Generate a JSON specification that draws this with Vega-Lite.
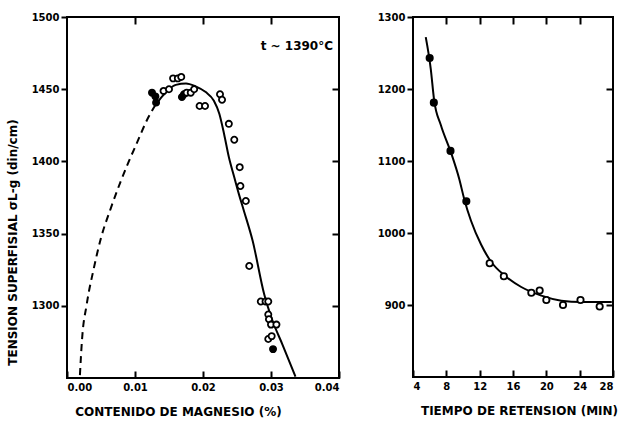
{
  "$schema": "https://vega.github.io/schema/vega-lite/v6.json",
  "padding": {"left": 5, "top": 11, "right": 5, "bottom": 5},
  "background": "white",
  "spacing": 35,
  "config": {
    "view": {"stroke": "black", "strokeWidth": 2},
    "font": "DejaVu Sans",
    "axis": {
      "grid": false, "domain": false, "tickColor": "black", "tickWidth": 2,
      "labelColor": "black", "labelFont": "DejaVu Sans", "labelFontWeight": "bold", "labelFontSize": 10,
      "titleColor": "black", "titleFont": "DejaVu Sans", "titleFontWeight": "bold", "titleFontSize": 12
    }
  },
  "datasets": {
    "mgDash": [
      {"mg": 0.0019, "st": 1252}, {"mg": 0.0022, "st": 1276}, {"mg": 0.0029, "st": 1301},
      {"mg": 0.0039, "st": 1325}, {"mg": 0.0050, "st": 1347}, {"mg": 0.0064, "st": 1367},
      {"mg": 0.0078, "st": 1385}, {"mg": 0.0090, "st": 1399}, {"mg": 0.0103, "st": 1413},
      {"mg": 0.0118, "st": 1429}, {"mg": 0.0130, "st": 1439}
    ],
    "mgSolid": [
      {"mg": 0.0130, "st": 1439}, {"mg": 0.0140, "st": 1445}, {"mg": 0.0150, "st": 1450},
      {"mg": 0.0160, "st": 1453}, {"mg": 0.0175, "st": 1454}, {"mg": 0.0189, "st": 1452},
      {"mg": 0.0204, "st": 1448}, {"mg": 0.0216, "st": 1442}, {"mg": 0.0224, "st": 1433},
      {"mg": 0.0231, "st": 1419}, {"mg": 0.0238, "st": 1403}, {"mg": 0.0246, "st": 1389},
      {"mg": 0.0253, "st": 1377}, {"mg": 0.0260, "st": 1366}, {"mg": 0.0273, "st": 1345},
      {"mg": 0.0290, "st": 1308}, {"mg": 0.0302, "st": 1290}, {"mg": 0.0317, "st": 1273},
      {"mg": 0.0336, "st": 1251}
    ],
    "mgPts": [
      {"mg": 0.0125, "st": 1447.6, "kind": "filled"}, {"mg": 0.0130, "st": 1445, "kind": "filled"},
      {"mg": 0.0131, "st": 1440.7, "kind": "filled"}, {"mg": 0.0142, "st": 1448.8, "kind": "open"},
      {"mg": 0.0150, "st": 1450, "kind": "open"}, {"mg": 0.0156, "st": 1457.5, "kind": "open"},
      {"mg": 0.0163, "st": 1457.5, "kind": "open"}, {"mg": 0.0168, "st": 1458.5, "kind": "open"},
      {"mg": 0.0169, "st": 1444.6, "kind": "filled"}, {"mg": 0.0172, "st": 1446.5, "kind": "filled"},
      {"mg": 0.0176, "st": 1447.6, "kind": "open"}, {"mg": 0.0182, "st": 1447.6, "kind": "open"},
      {"mg": 0.0187, "st": 1450, "kind": "open"}, {"mg": 0.0195, "st": 1438.4, "kind": "open"},
      {"mg": 0.0203, "st": 1438.4, "kind": "open"}, {"mg": 0.0225, "st": 1446.5, "kind": "open"},
      {"mg": 0.0228, "st": 1442.7, "kind": "open"}, {"mg": 0.0238, "st": 1426, "kind": "open"},
      {"mg": 0.0246, "st": 1415, "kind": "open"}, {"mg": 0.0254, "st": 1396, "kind": "open"},
      {"mg": 0.0255, "st": 1383, "kind": "open"}, {"mg": 0.0263, "st": 1372.6, "kind": "open"},
      {"mg": 0.0268, "st": 1327.6, "kind": "open"}, {"mg": 0.0285, "st": 1303, "kind": "open"},
      {"mg": 0.0292, "st": 1303, "kind": "open"}, {"mg": 0.0296, "st": 1303, "kind": "open"},
      {"mg": 0.0296, "st": 1294, "kind": "open"}, {"mg": 0.0297, "st": 1290.7, "kind": "open"},
      {"mg": 0.0300, "st": 1287, "kind": "open"}, {"mg": 0.0308, "st": 1287, "kind": "open"},
      {"mg": 0.0296, "st": 1277, "kind": "open"}, {"mg": 0.0301, "st": 1279, "kind": "open"},
      {"mg": 0.0303, "st": 1270, "kind": "filled"}
    ],
    "mgNote": [{"mg": 0.0338, "st": 1480, "label": "t ~ 1390°C"}],
    "tCurve": [
      {"t": 5.53, "st": 1272}, {"t": 6.13, "st": 1228}, {"t": 6.53, "st": 1185},
      {"t": 7.34, "st": 1150}, {"t": 8.55, "st": 1112}, {"t": 9.55, "st": 1075},
      {"t": 10.15, "st": 1047}, {"t": 10.96, "st": 1017}, {"t": 12.17, "st": 984},
      {"t": 13.37, "st": 960}, {"t": 14.98, "st": 941}, {"t": 16.99, "st": 925},
      {"t": 19.4, "st": 913}, {"t": 21.8, "st": 906}, {"t": 24.2, "st": 904},
      {"t": 27.85, "st": 904}
    ],
    "tPts": [
      {"t": 6.0, "st": 1243, "kind": "filled"}, {"t": 6.5, "st": 1181, "kind": "filled"},
      {"t": 8.5, "st": 1114, "kind": "filled"}, {"t": 10.4, "st": 1044, "kind": "filled"},
      {"t": 13.2, "st": 958, "kind": "open"}, {"t": 14.9, "st": 940, "kind": "open"},
      {"t": 18.2, "st": 917, "kind": "open"}, {"t": 19.2, "st": 920, "kind": "open"},
      {"t": 20.0, "st": 907, "kind": "open"}, {"t": 22.0, "st": 900, "kind": "open"},
      {"t": 24.1, "st": 907, "kind": "open"}, {"t": 26.4, "st": 898, "kind": "open"}
    ]
  },
  "hconcat": [
    {
      "width": 272,
      "height": 361,
      "resolve": {"axis": {"x": "independent", "y": "independent"}},
      "layer": [
        {
          "data": {"name": "mgDash"},
          "mark": {"type": "line", "color": "black", "strokeWidth": 2, "strokeDash": [7, 5], "interpolate": "monotone"},
          "encoding": {
            "x": {"field": "mg", "type": "quantitative", "scale": {"domain": [0, 0.04], "nice": false},
              "axis": {"orient": "bottom", "values": [0, 0.01, 0.02, 0.03, 0.04], "format": ".2f", "tickSize": -7, "labelPadding": 11,
                "title": "CONTENIDO DE MAGNESIO (%)", "titlePadding": 14, "titleX": 111}},
            "y": {"field": "st", "type": "quantitative", "scale": {"domain": [1250, 1500], "nice": false, "zero": false},
              "axis": {"orient": "left", "values": [1300, 1350, 1400, 1450, 1500], "format": "d", "tickSize": 6, "labelPadding": 2,
                "title": "TENSION SUPERFISIAL σL-g (din/cm)", "titlePadding": 12, "titleY": 225}}
          }
        },
        {
          "data": {"name": "mgSolid"},
          "mark": {"type": "line", "color": "black", "strokeWidth": 2, "interpolate": "monotone"},
          "encoding": {
            "x": {"field": "mg", "type": "quantitative", "axis": null},
            "y": {"field": "st", "type": "quantitative", "axis": null}
          }
        },
        {
          "data": {"name": "mgPts"},
          "mark": {"type": "point", "shape": "circle", "size": 38, "strokeWidth": 1.8, "opacity": 1},
          "encoding": {
            "x": {"field": "mg", "type": "quantitative", "axis": null},
            "y": {"field": "st", "type": "quantitative", "axis": null},
            "stroke": {"value": "black"},
            "fill": {"field": "kind", "type": "nominal", "scale": {"domain": ["filled", "open"], "range": ["black", "white"]}, "legend": null}
          }
        },
        {
          "data": {"name": "mgNote"},
          "mark": {"type": "text", "font": "DejaVu Sans", "fontWeight": "bold", "fontSize": 12, "color": "black"},
          "encoding": {
            "x": {"field": "mg", "type": "quantitative", "axis": null},
            "y": {"field": "st", "type": "quantitative", "axis": null},
            "text": {"field": "label"}
          }
        },
        {
          "data": {"name": "mgNote"},
          "mark": {"type": "point", "opacity": 0},
          "encoding": {
            "x": {"field": "mg", "type": "quantitative",
              "axis": {"orient": "top", "values": [0.01, 0.02, 0.03], "labels": false, "tickSize": -7, "title": null}},
            "y": {"field": "st", "type": "quantitative",
              "axis": {"orient": "right", "values": [1300, 1350, 1400, 1450], "labels": false, "tickSize": -7, "title": null}}
          }
        }
      ]
    },
    {
      "width": 200,
      "height": 360,
      "resolve": {"axis": {"x": "independent", "y": "independent"}},
      "layer": [
        {
          "data": {"name": "tCurve"},
          "mark": {"type": "line", "color": "black", "strokeWidth": 2, "interpolate": "monotone"},
          "encoding": {
            "x": {"field": "t", "type": "quantitative", "scale": {"domain": [4, 28], "nice": false, "zero": false},
              "axis": {"orient": "bottom", "values": [4, 8, 12, 16, 20, 24, 28], "tickSize": -7, "labelPadding": 11,
                "title": "TIEMPO DE RETENSION (MIN)", "titlePadding": 14, "titleX": 106}},
            "y": {"field": "st", "type": "quantitative", "scale": {"domain": [800, 1300], "nice": false, "zero": false},
              "axis": {"orient": "left", "values": [900, 1000, 1100, 1200, 1300], "format": "d", "tickSize": 6, "labelPadding": 2, "title": null}}
          }
        },
        {
          "data": {"name": "tPts"},
          "mark": {"type": "point", "shape": "circle", "size": 40, "strokeWidth": 1.8, "opacity": 1},
          "encoding": {
            "x": {"field": "t", "type": "quantitative", "axis": null},
            "y": {"field": "st", "type": "quantitative", "axis": null},
            "stroke": {"value": "black"},
            "fill": {"field": "kind", "type": "nominal", "scale": {"domain": ["filled", "open"], "range": ["black", "white"]}, "legend": null}
          }
        },
        {
          "data": {"name": "tPts"},
          "mark": {"type": "point", "opacity": 0},
          "encoding": {
            "x": {"field": "t", "type": "quantitative",
              "axis": {"orient": "top", "values": [8, 12, 16, 20, 24], "labels": false, "tickSize": -7, "title": null}},
            "y": {"field": "st", "type": "quantitative",
              "axis": {"orient": "right", "values": [900, 1000, 1100, 1200], "labels": false, "tickSize": -7, "title": null}}
          }
        }
      ]
    }
  ]
}
